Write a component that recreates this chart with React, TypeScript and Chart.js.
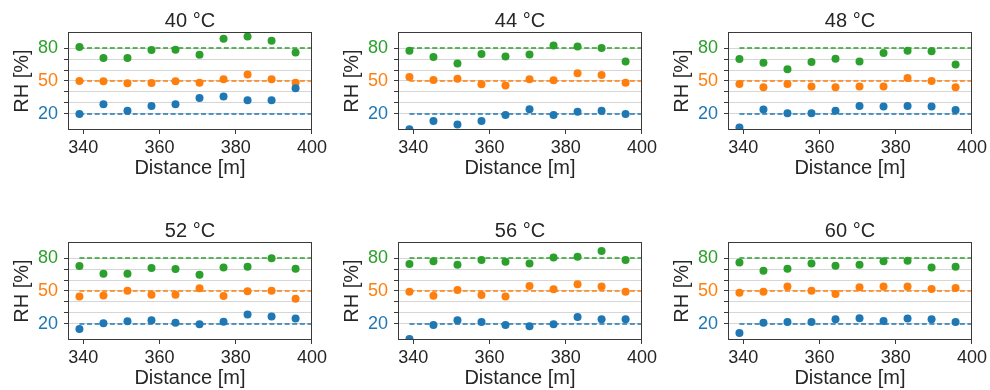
import React, { useEffect, useRef } from "react";
import { Chart, registerables } from "chart.js";

Chart.register(...registerables);

const panelTitles = ["40 °C", "44 °C", "48 °C", "52 °C", "56 °C", "60 °C"];
const distance = [339.0, 345.3, 351.6, 357.9, 364.2, 370.5, 376.8, 383.1, 389.4, 395.7];
const setpoints = [20, 50, 80];
const xTicks = [340, 360, 380, 400];
const yTicks = [20, 30, 40, 50, 60, 70, 80];
const yLabeled = [20, 50, 80];
const xMin = 336;
const xMax = 400;
const yMin = 5.4;
const yMax = 94.6;

// RH measured at set point 20 %
const rh20 = [
  [20.0, 28.8, 23.0, 27.3, 28.8, 34.6, 36.0, 32.4, 32.4, 43.4],
  [6.0, 13.6, 10.3, 13.6, 19.1, 24.3, 19.1, 22.1, 23.0, 20.0],
  [7.6, 24.0, 20.6, 20.6, 23.0, 27.3, 26.7, 27.3, 26.7, 23.7],
  [15.4, 20.6, 22.4, 23.4, 21.2, 19.7, 22.1, 28.5, 26.7, 24.9],
  [6.3, 19.1, 23.4, 21.8, 19.1, 17.9, 19.7, 26.4, 24.3, 24.3],
  [11.8, 21.2, 21.8, 21.8, 24.3, 25.2, 22.8, 24.9, 24.3, 21.8],
];
// RH measured at set point 50 %
const rh50 = [
  [50.0, 49.7, 47.9, 48.2, 49.7, 48.5, 51.5, 56.0, 51.5, 48.5],
  [53.7, 50.9, 52.1, 47.0, 46.0, 51.5, 50.6, 57.0, 55.5, 48.5],
  [47.3, 44.3, 47.3, 44.9, 44.3, 44.9, 44.9, 52.7, 50.0, 44.3],
  [45.1, 46.0, 50.3, 46.6, 46.6, 52.4, 45.4, 49.7, 50.3, 43.0],
  [49.4, 45.7, 50.9, 46.3, 45.1, 54.6, 51.5, 56.1, 54.0, 49.4],
  [48.5, 49.4, 54.0, 50.3, 47.3, 53.4, 54.0, 54.0, 51.8, 52.7],
];
// RH measured at set point 80 %
const rh80 = [
  [80.9, 70.9, 70.9, 78.2, 78.5, 73.9, 88.5, 90.4, 86.7, 76.0],
  [77.6, 71.8, 66.0, 74.5, 72.4, 74.2, 82.4, 81.5, 80.0, 67.8],
  [70.0, 66.6, 60.8, 67.2, 70.3, 67.8, 75.4, 77.6, 77.0, 65.1],
  [72.7, 65.7, 65.7, 70.9, 70.0, 64.8, 71.5, 72.1, 79.7, 70.3],
  [74.5, 77.0, 73.9, 78.2, 76.6, 75.1, 80.6, 81.2, 86.4, 78.2],
  [76.0, 68.5, 70.3, 75.1, 73.0, 73.9, 77.0, 77.6, 71.5, 72.1],
];

const colors = ["#1f77b4", "#ff7f0e", "#2ca02c"];
const textColor = "#262626";
const FONT = "'Liberation Sans', Arial, sans-serif";

const framePlugin = {
  id: "frame",
  afterDatasetsDraw(chart: any) {
    const { ctx, chartArea } = chart;
    ctx.save();
    ctx.strokeStyle = "#3a3a3a";
    ctx.lineWidth = 1;
    ctx.strokeRect(
      Math.round(chartArea.left) + 0.5,
      Math.round(chartArea.top) + 0.5,
      Math.round(chartArea.right - chartArea.left) - 1,
      Math.round(chartArea.bottom - chartArea.top) - 1
    );
    ctx.restore();
  },
};

const panelTitlePlugin = {
  id: "panelTitle",
  afterDraw(chart: any, _args: any, opts: any) {
    const { ctx, chartArea } = chart;
    ctx.save();
    ctx.fillStyle = textColor;
    ctx.font = `20px ${FONT}`;
    ctx.textAlign = "center";
    ctx.textBaseline = "alphabetic";
    ctx.fillText(opts.text, (chartArea.left + chartArea.right) / 2, chartArea.top - 5);
    ctx.restore();
  },
};

function Panel({ idx, left, top }: { idx: number; left: number; top: number }) {
  const ref = useRef<HTMLCanvasElement>(null);
  useEffect(() => {
    if (!ref.current) return;
    const series = [rh20[idx], rh50[idx], rh80[idx]];
    const datasets: any[] = [];
    series.forEach((vals, k) => {
      datasets.push({
        type: "scatter",
        data: vals.map((y, i) => ({ x: distance[i], y })),
        backgroundColor: colors[k],
        borderColor: colors[k],
        borderWidth: 0,
        pointRadius: 4,
        clip: 0,
        order: 0,
      });
    });
    setpoints.forEach((sp, k) => {
      datasets.push({
        type: "line",
        data: [
          { x: distance[0], y: sp },
          { x: xMax, y: sp },
        ],
        borderColor: colors[k],
        borderWidth: 1.5,
        borderDash: [5, 2.6],
        pointRadius: 0,
        fill: false,
        order: 1,
      });
    });
    const chart = new Chart(ref.current, {
      type: "scatter",
      data: { datasets },
      options: {
        animation: false,
        responsive: false,
        events: [],
        layout: { padding: { left: 0, right: 18, top: 32, bottom: 0 } },
        plugins: {
          legend: { display: false },
          tooltip: { enabled: false },
          title: { display: false },
          panelTitle: { text: panelTitles[idx] },
        },
        scales: {
          x: {
            type: "linear",
            min: xMin,
            max: xMax,
            afterBuildTicks: (s: any) => {
              s.ticks = xTicks.map((v) => ({ value: v }));
            },
            afterFit: (s: any) => {
              s.height = 50;
            },
            ticks: {
              color: textColor,
              font: { family: FONT, size: 18 },
              padding: 3,
              maxRotation: 0,
              autoSkip: false,
              callback: (v: any) => String(v),
            },
            grid: {
              drawOnChartArea: false,
              drawTicks: true,
              tickLength: 4,
              tickColor: "#3a3a3a",
            },
            border: { display: false },
            title: {
              display: true,
              text: "Distance [m]",
              color: textColor,
              font: { family: FONT, size: 20 },
              padding: { top: 0, bottom: 0 },
            },
          },
          y: {
            type: "linear",
            min: yMin,
            max: yMax,
            afterBuildTicks: (s: any) => {
              s.ticks = yTicks.map((v) => ({ value: v }));
            },
            afterFit: (s: any) => {
              s.width = 68;
            },
            ticks: {
              font: { family: FONT, size: 18 },
              padding: 6,
              autoSkip: false,
              color: (c: any) => {
                const k = setpoints.indexOf(c.tick.value);
                return k >= 0 ? colors[k] : textColor;
              },
              callback: (v: any) => (yLabeled.includes(v) ? String(v) : ""),
            },
            grid: {
              color: "#d6d6d6",
              lineWidth: 1,
              drawTicks: true,
              tickLength: 4,
              tickColor: "#3a3a3a",
            },
            border: { display: false },
            title: {
              display: true,
              text: "RH [%]",
              color: textColor,
              font: { family: FONT, size: 20 },
              padding: { top: 10, bottom: 0 },
            },
          },
        },
      } as any,
      plugins: [framePlugin, panelTitlePlugin],
    });
    return () => chart.destroy();
  }, [idx]);
  return (
    <canvas
      ref={ref}
      width={330}
      height={180}
      style={{ position: "absolute", left, top, width: 330, height: 180 }}
    />
  );
}

export default function App() {
  const positions = [
    [0, 0],
    [330, 0],
    [660, 0],
    [0, 210],
    [330, 210],
    [660, 210],
  ];
  return (
    <div
      style={{
        position: "absolute",
        left: 0,
        top: 0,
        width: 990,
        height: 390,
        background: "#ffffff",
        overflow: "hidden",
      }}
    >
      {positions.map(([l, t], i) => (
        <Panel key={i} idx={i} left={l} top={t} />
      ))}
    </div>
  );
}
